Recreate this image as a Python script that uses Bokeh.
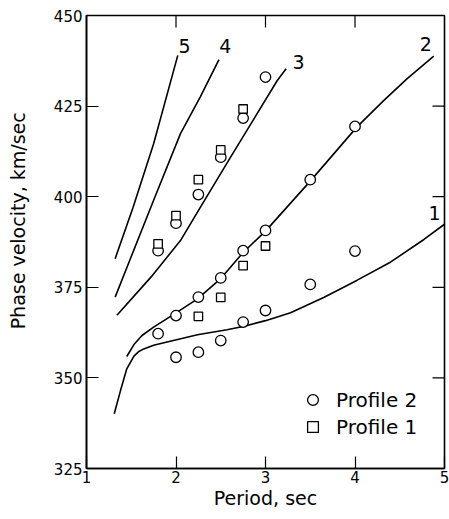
from bokeh.plotting import figure
from bokeh.models import (FixedTicker, Range1d, Legend, LegendItem)
from bokeh.core.properties import value
from bokeh.embed import file_html
from bokeh.resources import INLINE

# ---- data ----
x_ticks = [1, 2, 3, 4, 5]
y_ticks = [325, 350, 375, 400, 425, 450]

# Profile 2 (circles)
p2_period = [1.8, 1.8, 2.0, 2.0, 2.0, 2.25, 2.25, 2.25, 2.5, 2.5, 2.5,
             2.75, 2.75, 2.75, 3.0, 3.0, 3.0, 3.5, 3.5, 4.0, 4.0]
p2_vel = [362.2, 385.1, 355.7, 367.2, 392.7, 357.1, 372.3, 400.6, 360.3, 377.6, 410.9,
          365.4, 385.1, 421.7, 368.6, 390.7, 433.0, 375.8, 404.7, 385.0, 419.4]

# Profile 1 (squares)
p1_period = [1.8, 2.0, 2.25, 2.25, 2.5, 2.5, 2.75, 2.75, 3.0]
p1_vel = [387.0, 394.8, 367.0, 404.7, 372.2, 412.9, 381.0, 424.2, 386.4]

# theoretical curves 1..5
c1_period = [1.31, 1.38, 1.45, 1.53, 1.58, 1.64, 1.75, 1.9, 2.24, 2.57, 2.75, 3.0, 3.28, 3.65, 4.02, 4.4, 4.77, 5.0]
c1_vel = [340.1, 346.5, 352.5, 356.0, 357.2, 358.0, 359.0, 359.9, 361.9, 363.3, 364.2, 365.8, 368.0, 372.2, 376.9, 382.0, 388.2, 392.4]

c2_period = [1.45, 1.53, 1.62, 1.75, 2.01, 2.24, 2.5, 2.75, 3.0, 3.5, 4.02, 4.32, 4.58, 4.88]
c2_vel = [355.9, 359.2, 361.7, 364.0, 368.1, 371.8, 377.4, 384.6, 390.5, 404.3, 419.2, 426.5, 432.5, 438.8]

c3_period = [1.34, 1.72, 2.05, 2.27, 2.61, 3.13, 3.23]
c3_vel = [367.3, 377.8, 387.9, 397.0, 410.9, 432.0, 435.3]

c4_period = [1.32, 1.5, 1.75, 2.05, 2.27, 2.48]
c4_vel = [372.3, 383.5, 399.0, 417.4, 427.5, 437.8]

c5_period = [1.32, 1.52, 1.75, 2.02]
c5_vel = [382.9, 397.0, 414.6, 439.0]

curve_names = ["1", "2", "3", "4", "5"]
name_period = [4.89, 4.79, 3.37, 2.55, 2.095]
name_vel = [395.5, 442.0, 437.1, 441.7, 441.7]

FONT = "DejaVu Sans"
W, H = 449, 519
BL, BR, BT, BB = 86, 5, 15, 51
X0, X1, Y0, Y1 = 1, 5, 325, 450
TICK_PX = 12

p = figure(width=W, height=H, output_backend="svg", toolbar_location=None,
           x_range=Range1d(X0, X1), y_range=Range1d(Y0, Y1),
           min_border_left=BL, min_border_right=BR, min_border_top=BT, min_border_bottom=BB)
p.background_fill_color = "white"
p.border_fill_color = "white"
p.outline_line_color = "black"
p.outline_line_width = 1.6
p.xgrid.visible = False
p.ygrid.visible = False

for ax in (p.xaxis[0], p.yaxis[0]):
    ax.major_tick_in = TICK_PX
    ax.major_tick_out = 0
    ax.minor_tick_line_color = None
    ax.axis_line_color = "black"
    ax.axis_line_width = 1.6
    ax.major_tick_line_width = 1.2
    ax.major_label_text_font = FONT
    ax.major_label_text_font_size = "15px"
    ax.major_label_text_color = "black"
    ax.axis_label_text_font = FONT
    ax.axis_label_text_font_size = "19px"
    ax.axis_label_text_font_style = "normal"
    ax.axis_label_text_color = "black"
p.xaxis[0].ticker = FixedTicker(ticks=x_ticks)
p.yaxis[0].ticker = FixedTicker(ticks=y_ticks)
p.xaxis[0].major_label_standoff = 2
p.yaxis[0].major_label_standoff = 4
p.xaxis[0].axis_label = "Period, sec"
p.xaxis[0].axis_label_standoff = 1
# leading no-break spaces shift the centred title upward, as in the reference
p.yaxis[0].axis_label = "\u00a0" * 7 + "Phase velocity, km/sec"
p.yaxis[0].axis_label_standoff = 22

# inside ticks on the top and right edges of the frame
frame_w = W - BL - BR
frame_h = H - BT - BB
dy = TICK_PX * (Y1 - Y0) / frame_h
dx = TICK_PX * (X1 - X0) / frame_w
top_t = x_ticks[1:-1]
right_t = y_ticks[1:-1]
p.segment(x0=top_t, y0=[Y1] * len(top_t), x1=top_t, y1=[Y1 - dy] * len(top_t),
          line_color="black", line_width=1.2)
p.segment(x0=[X1] * len(right_t), y0=right_t, x1=[X1 - dx] * len(right_t), y1=right_t,
          line_color="black", line_width=1.2)

# curves
for xs, ys in [(c1_period, c1_vel), (c2_period, c2_vel), (c3_period, c3_vel),
               (c4_period, c4_vel), (c5_period, c5_vel)]:
    p.line(xs, ys, line_color="black", line_width=1.6)

p.text(x=name_period, y=name_vel, text=curve_names, text_font=value(FONT),
       text_font_size="19px", text_align="center", text_baseline="middle", text_color="black")

r2 = p.scatter(p2_period, p2_vel, marker="circle", size=10.5, fill_color="white",
               line_color="black", line_width=1.3)
r1 = p.scatter(p1_period, p1_vel, marker="square", size=8.5, fill_color="white",
               line_color="black", line_width=1.3)

legend = Legend(items=[LegendItem(label="Profile 2", renderers=[r2]),
                       LegendItem(label="Profile 1", renderers=[r1])],
                location=(213, 28), padding=0, spacing=0, margin=0,
                glyph_width=27, glyph_height=27, label_height=27, label_standoff=10,
                border_line_color=None, background_fill_alpha=0,
                label_text_font=FONT, label_text_font_size="20px", label_text_color="black")
p.add_layout(legend)

open("out.html", "w").write(file_html(p, INLINE))
